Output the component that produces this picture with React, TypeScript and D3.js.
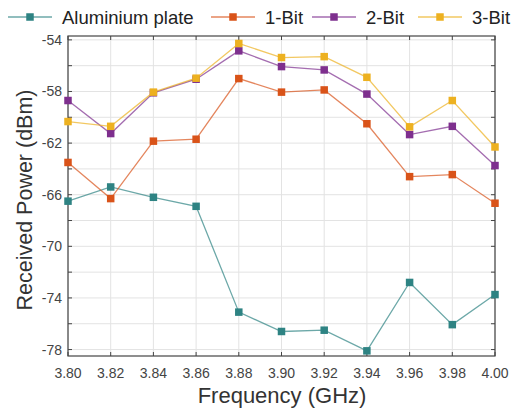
import React from "react";
import * as d3 from "d3";

const freqs = [3.80, 3.82, 3.84, 3.86, 3.88, 3.90, 3.92, 3.94, 3.96, 3.98, 4.00];
const aluminium = [-66.5, -65.4, -66.2, -66.9, -75.1, -76.6, -76.5, -78.1, -72.8, -76.07, -73.74];
const bit1 = [-63.5, -66.3, -61.85, -61.7, -57.0, -58.05, -57.88, -60.5, -64.6, -64.44, -66.66];
const bit2 = [-58.7, -61.26, -58.1, -57.05, -54.85, -56.07, -56.33, -58.2, -61.34, -60.7, -63.74];
const bit3 = [-60.33, -60.7, -58.05, -56.97, -54.28, -55.37, -55.3, -56.9, -60.74, -58.7, -62.3];
const seriesNames = ["Aluminium plate", "1-Bit", "2-Bit", "3-Bit"];
const seriesColors = ["#2e8383", "#d95319", "#7e2f8e", "#edb120"];
const yTickLabels = [-54, -58, -62, -66, -70, -74, -78];
const yGrid = d3.range(-78, -53, 2);

export default function App() {
  const W = 513, H = 411;
  const L = 68, R = 495, T = 36, B = 356;
  const x = d3.scaleLinear().domain([3.8, 4.0]).range([L, R]);
  const y = d3.scaleLinear().domain([-78.5, -53.7]).range([B, T]);
  const all = [aluminium, bit1, bit2, bit3];
  const line = d3.line<number>().x((_, i) => x(freqs[i])).y((d) => y(d));
  const ms = 7.5;
  const legendX = [8, 211, 312, 418];
  return (
    <svg width={W} height={H} style={{ position: "absolute", left: 0, top: 0, fontFamily: "Liberation Sans, Arial, sans-serif" }}>
      <rect width={W} height={H} fill="#fff" />
      {freqs.map((f) => (
        <line key={"gx" + f} x1={x(f)} x2={x(f)} y1={T} y2={B} stroke="#e3e3e3" strokeWidth={1} />
      ))}
      {yGrid.map((v) => (
        <line key={"gy" + v} x1={L} x2={R} y1={y(v)} y2={y(v)} stroke="#e3e3e3" strokeWidth={1} />
      ))}
      {freqs.map((f) => (
        <g key={"tx" + f}>
          <line x1={x(f)} x2={x(f)} y1={B} y2={B - 4} stroke="#444" />
          <line x1={x(f)} x2={x(f)} y1={T} y2={T + 4} stroke="#444" />
          <text x={x(f)} y={378} textAnchor="middle" fontSize={14} fill="#444">{f.toFixed(2)}</text>
        </g>
      ))}
      {yGrid.map((v) => (
        <g key={"ty" + v}>
          <line x1={L} x2={L + 4} y1={y(v)} y2={y(v)} stroke="#444" />
          <line x1={R} x2={R - 4} y1={y(v)} y2={y(v)} stroke="#444" />
        </g>
      ))}
      {yTickLabels.map((v) => (
        <text key={"yl" + v} x={L - 6} y={y(v) + 5} textAnchor="end" fontSize={14} fill="#444">{v}</text>
      ))}
      <rect x={L} y={T} width={R - L} height={B - T} fill="none" stroke="#444" strokeWidth={1.2} />
      {all.map((s, si) => (
        <g key={"s" + si}>
          <path d={line(s) || ""} fill="none" stroke={seriesColors[si]} strokeOpacity={0.7} strokeWidth={1.3} />
          {s.map((v, i) => (
            <rect key={i} x={x(freqs[i]) - ms / 2} y={y(v) - ms / 2} width={ms} height={ms} fill={seriesColors[si]} />
          ))}
        </g>
      ))}
      {seriesNames.map((n, i) => (
        <g key={"lg" + i}>
          <line x1={legendX[i]} x2={legendX[i] + 44} y1={17} y2={17} stroke={seriesColors[i]} strokeOpacity={0.7} strokeWidth={1.3} />
          <rect x={legendX[i] + 22 - ms / 2} y={17 - ms / 2} width={ms} height={ms} fill={seriesColors[i]} />
          <text x={legendX[i] + 54} y={23.5} fontSize={18.5} fill="#222">{n}</text>
        </g>
      ))}
      <text x={282} y={403} textAnchor="middle" fontSize={22} fill="#333">Frequency (GHz)</text>
      <text transform={`translate(32,200) rotate(-90)`} textAnchor="middle" fontSize={21.5} fill="#333">Received Power (dBm)</text>
    </svg>
  );
}
